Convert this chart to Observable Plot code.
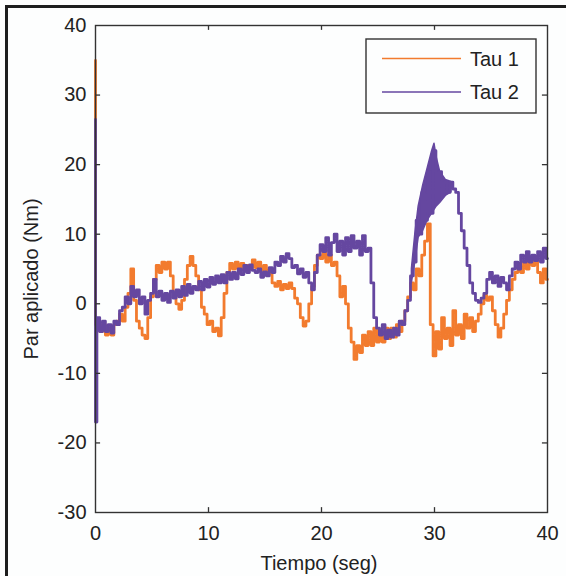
<!DOCTYPE html>
<html><head><meta charset="utf-8">
<script src="https://cdn.jsdelivr.net/npm/d3@7"></script>
<script src="https://cdn.jsdelivr.net/npm/@observablehq/plot@0.6"></script>
<style>
body{margin:0;background:#fdfefe;}
#wrap{position:relative;width:566px;height:576px;overflow:hidden;background:#fdfefe;}
#border{position:absolute;left:5px;top:5px;width:600px;height:600px;border-left:3px solid #1e1e1e;border-top:3px solid #1e1e1e;}
#wrap svg{position:absolute;left:0;top:0;}
</style></head><body>
<div id="wrap"><div id="border"></div></div>
<script>
// sample times (s): two samples at t=0 (initial transient), then every 0.25 s
const time = [0, 0, ...d3.range(1, 161).map(i => i / 4)];
// Tau 1 (Nm)
const tau1 = [35, -3,
  -2.5,-4,-3,-4.5,   -3.5,-4.5,-3,-2.5,  -1.5,-2.5,-0.5,1.5,  5,0.5,-2.5,-3.5,
  -4.5,-5,-2,1,      3.5,5.5,4.5,6,      5,6,4,1.5,           0,-0.8,0.5,3.5,
  5.5,6.8,5.5,4,     2,-0.5,-1.5,-3,     -2.5,-4,-3.5,-4.6,   -2,1.5,4.5,5.8,
  5,6,5,5.8,         4.8,5.5,5,6.3,      5.2,6,4.8,5.5,       4.2,5,3,2.5,
  3.2,2,2.8,2.2,     3,2.2,0.8,0,        -2,-3.2,-2.5,0,      2.5,5.5,7,6.5,
  7.5,6,7,5.5,       6,4,1,2.5,          0,-3.5,-5.5,-8,      -6,-7,-4.5,-6,
  -4,-6,-3.5,-5.5,   -4,-5.5,-3.5,-5,    -3.5,-4.8,-3,-4,     -2.5,-1,1,3,
  2,5,4,7,           9,11.5,-3,-7.5,     -4,-6.5,-2,-5,       -3.5,-6,-1,-4.5,
  -3,-5,-1.5,-3.5,   -2,-4,-2.5,-1.5,    0,1.2,0.5,1,         -1,-3,-4.8,-3.5,
  -1.5,0.5,2,3.5,    4.5,5.5,4.5,6,      5,6.5,5.5,6.8,       4.5,3,5,3.5
];
// Tau 2 (Nm)
const tau2 = [26.5, -17,
  -2,-4,-2.5,-4,     -3,-4.2,-2.5,-3,    -1,-0.5,1,0,         2.5,1,2,0,
  1,-1.5,0.5,1.5,    3.5,1,1.8,0.5,      1.5,0.2,1.8,0.8,     2,1,2.5,1.2,
  2.8,1.5,2.5,2,     3.2,2,3.5,2.4,      3.8,2.8,4,3,         4.2,3,4.5,3.5,
  4.5,3.6,5,4.2,     5.5,4.5,5.6,4.8,    4.5,5,3.8,4.6,       4,5.2,4.5,6,
  5.5,6.8,6,7.2,     6.5,5.2,5.5,4.3,    5,3.8,4.5,3,         2,4.5,7,8.5,
  7.5,9.5,7,8.8,     10,7.5,9,7,         9.5,7.5,9.8,8,       9,7,9.8,7.5,
  8,3,-2,-3.5,       -4.5,-3,-5,-3.8,    -4.8,-3.5,-4.5,-2.5, -3,-1,0.5,4,
  6,12,10,16,        12,19,13,22,        15,19,16,17.5,       16,17.5,16.5,16,
  13,10.5,8,5.5,     3,1.5,0.5,0.2,      0.8,1.5,3.5,4.5,     3,4,2.5,3.8,
  3,2,4,5,           6,5,7,6,            7.5,6,7,6.2,         7.5,6,8,6.5
];
// Tau 2 dense-oscillation envelope (Nm)
const bandTime = [28, 28.3, 28.6, 29, 29.4, 29.8, 30, 30.2, 30.5, 31, 31.5];
const bandLo   = [3, 6, 9.5, 10.5, 12, 13, 13.5, 14, 14.5, 15.5, 16];
const bandHi   = [5, 10, 14, 17, 19.5, 22, 23, 21, 19, 17.8, 17.5];

const xTicks = [0,10,20,30,40];
const yTicks = [-30,-20,-10,0,10,20,30,40];
const seriesNames = ["Tau 1","Tau 2"];
const seriesColors = ["#f27b2e","#6547a0"];
const xLabel = "Tiempo (seg)";
const yLabel = "Par aplicado (Nm)";

const rows1 = time.map((t,i)=>({t, v:tau1[i]}));
const rows2 = time.map((t,i)=>({t, v:tau2[i]}));
const band = bandTime.map((t,i)=>({t, lo:bandLo[i], hi:bandHi[i]}));
const axisColor = "#333";
const font = "'Liberation Sans', Arial, sans-serif";

const plot = Plot.plot({
  width:566, height:576,
  marginLeft:95, marginRight:19, marginTop:25, marginBottom:64,
  style:{background:"transparent", fontFamily:font, fontSize:"20px", color:"#222", overflow:"visible"},
  x:{domain:[0,40]},
  y:{domain:[-30,40]},
  marks:[
    Plot.lineY(rows1,{x:"t", y:"v", stroke:seriesColors[0], strokeWidth:2.8, curve:"step"}),
    Plot.areaY(band,{x:"t", y1:"lo", y2:"hi", fill:seriesColors[1], stroke:seriesColors[1], strokeWidth:1.5}),
    Plot.lineY(rows2,{x:"t", y:"v", stroke:seriesColors[1], strokeWidth:2.8, curve:"step"}),
    Plot.frame({stroke:axisColor, strokeWidth:1.4}),
    Plot.ruleX(xTicks.slice(1,-1),{x:d=>d, y1:-30, y2:-29.3, stroke:axisColor, strokeWidth:1.3}),
    Plot.ruleX(xTicks.slice(1,-1),{x:d=>d, y1:40, y2:39.3, stroke:axisColor, strokeWidth:1.3}),
    Plot.ruleY(yTicks.slice(1,-1),{y:d=>d, x1:0, x2:0.45, stroke:axisColor, strokeWidth:1.3}),
    Plot.ruleY(yTicks.slice(1,-1),{y:d=>d, x1:40, x2:39.55, stroke:axisColor, strokeWidth:1.3}),
    Plot.axisX(xTicks,{anchor:"bottom", tickSize:0, tickPadding:13, label:null, tickFormat:d=>String(d), fontSize:20, fill:"#222"}),
    Plot.axisY(yTicks,{anchor:"left", tickSize:0, tickPadding:9, label:null, tickFormat:d=>String(d), fontSize:20, fill:"#222"})
  ]
});
document.getElementById("wrap").appendChild(plot);

const svg = d3.select(plot);
svg.append("text").attr("x",319).attr("y",570).attr("text-anchor","middle")
  .attr("font-family",font).attr("font-size",20).attr("fill","#222").text(xLabel);
svg.append("text").attr("transform","translate(38,279) rotate(-90)").attr("text-anchor","middle")
  .attr("font-family",font).attr("font-size",20).attr("fill","#222").text(yLabel);
const lg = svg.append("g");
lg.append("rect").attr("x",366).attr("y",39).attr("width",170).attr("height",74)
  .attr("fill","#fdfefe").attr("stroke",axisColor).attr("stroke-width",1.4);
seriesNames.forEach((name,i)=>{
  const yy = 58.5 + i*33.5;
  lg.append("line").attr("x1",382).attr("x2",461).attr("y1",yy).attr("y2",yy)
    .attr("stroke",seriesColors[i]).attr("stroke-width",1.5);
  lg.append("text").attr("x",470).attr("y",yy+7).attr("text-anchor","start")
    .attr("font-family",font).attr("font-size",20).attr("fill","#222").text(name);
});
</script>
</body></html>
